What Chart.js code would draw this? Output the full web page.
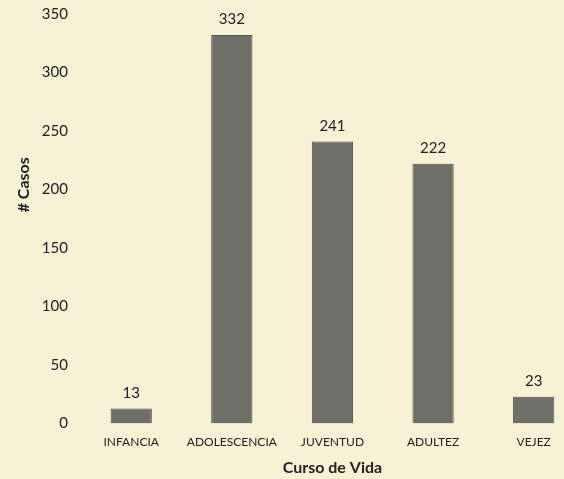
<!DOCTYPE html>
<html>
<head>
<meta charset="utf-8">
<script src="https://cdn.jsdelivr.net/npm/chart.js@4"></script>
<style>
  html, body { margin: 0; padding: 0; overflow: hidden; background: #f7f1d6; }
  #wrap { position: relative; top: -8px; width: 584px; height: 487px; }
</style>
</head>
<body>
<div id="wrap"><canvas id="casos"></canvas></div>
<script>
// Casos por curso de vida
const labels = ['INFANCIA', 'ADOLESCENCIA', 'JUVENTUD', 'ADULTEZ', 'VEJEZ'];
const casos = [13, 332, 241, 222, 23];
const yTicks = [0, 50, 100, 150, 200, 250, 300, 350];

const fontFamily = "Lato, 'Open Sans', sans-serif";
Chart.defaults.color = '#222222';

// numbers above the bars + y title placed a bit above the middle, like the original
const valueLabels = {
    id: 'valueLabels',
    afterDatasetsDraw(chart) {
        const ctx = chart.ctx;
        const meta = chart.getDatasetMeta(0);
        ctx.save();
        ctx.font = '15px ' + fontFamily;
        ctx.fillStyle = '#222222';
        ctx.textAlign = 'center';
        ctx.textBaseline = 'bottom';
        meta.data.forEach((bar, i) => {
            ctx.fillText(casos[i], bar.x, bar.y - 8);
        });
        // y axis title
        const area = chart.chartArea;
        ctx.translate(24, (area.top + area.bottom) / 2 - 34);
        ctx.rotate(-Math.PI / 2);
        ctx.font = 'bold 16px ' + fontFamily;
        ctx.textBaseline = 'middle';
        ctx.fillText('# Casos', 0, 0);
        ctx.restore();
    }
};

const data = {
    labels: labels,
    datasets: [{
        label: '# Casos',
        data: casos,
        backgroundColor: '#6e7068',
        borderColor: '#4f514a',
        borderWidth: 1,
        barPercentage: 0.41,
        categoryPercentage: 1
    }]
};

const config = {
    type: 'bar',
    data: data,
    options: {
        responsive: true,
        maintainAspectRatio: false,
        animation: false,
        layout: {
            padding: { top: 0, left: 8, right: 0, bottom: 3 }
        },
        plugins: {
            legend: { display: false },
            tooltip: { enabled: false }
        },
        scales: {
            x: {
                grid: { display: false, drawTicks: false },
                border: { display: false },
                ticks: {
                    font: { family: fontFamily, size: 12 },
                    color: '#222222',
                    padding: 11,
                    maxRotation: 0
                },
                title: {
                    display: true,
                    text: 'Curso de Vida',
                    font: { family: fontFamily, size: 16, weight: 'bold', lineHeight: 1 },
                    color: '#222222',
                    padding: { top: 0, bottom: 0 }
                }
            },
            y: {
                min: 0,
                max: 350,
                grid: { display: false, drawTicks: false },
                border: { display: false },
                afterBuildTicks(axis) {
                    axis.ticks = yTicks.map(v => ({ value: v }));
                },
                ticks: {
                    font: { family: fontFamily, size: 15 },
                    color: '#222222',
                    padding: 13
                },
                title: {
                    display: true,
                    text: '# Casos',
                    font: { family: fontFamily, size: 14, weight: 'bold' },
                    color: 'rgba(0,0,0,0)',
                    padding: { top: 4, bottom: 0 }
                }
            }
        }
    },
    plugins: [valueLabels]
};

const casosChart = new Chart(document.getElementById('casos'), config);
</script>
</body>
</html>
